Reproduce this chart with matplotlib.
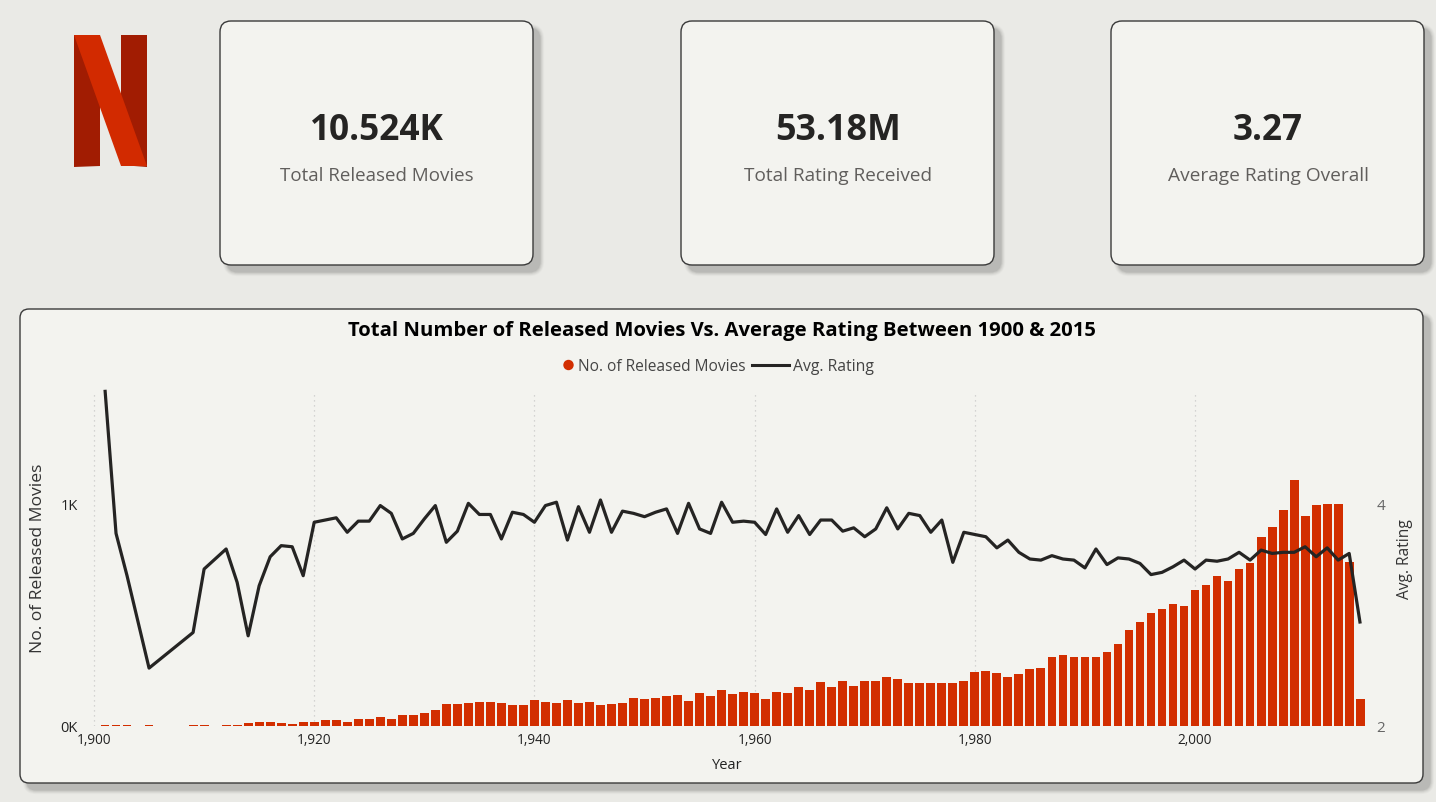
import matplotlib
matplotlib.use('Agg')
import matplotlib.pyplot as plt
from matplotlib.patches import FancyBboxPatch, Polygon, Circle
from matplotlib.lines import Line2D

plt.rcParams['font.family'] = ['Open Sans', 'DejaVu Sans']

# ---------------- data ----------------
years = [1901, 1902, 1903, 1905, 1909, 1910, 1912, 1913] + list(range(1914, 2016))

movies = [5, 5, 5, 5, 5, 5, 5, 5,
          13, 16, 16, 12, 8, 16, 19, 25, 25, 16, 30, 33, 40, 30, 49, 49, 58,
          70, 97, 99, 102, 108, 108, 103, 94, 93,
          117, 108, 102, 117, 102, 106, 93, 99, 102, 126,
          121, 126, 133, 138, 112, 147, 135, 161, 142, 151,
          148, 123, 151, 147, 175, 163, 199, 173, 200, 178,
          200, 203, 218, 209, 194, 194, 194, 194, 191, 200,
          241, 248, 236, 221, 232, 254, 260, 312, 320, 308,
          312, 312, 333, 369, 432, 468, 508, 526, 550, 537,
          611, 631, 674, 653, 704, 734, 849, 895, 972, 1106,
          943, 991, 997, 997, 737, 120]

ratings = [5.02, 3.73, 3.35, 2.52, 2.84, 3.41, 3.59, 3.29,
           2.81, 3.26, 3.52, 3.62, 3.61, 3.35, 3.83, 3.85, 3.87, 3.74, 3.84, 3.84,
           3.98, 3.91, 3.68, 3.73, 3.86, 3.98, 3.65, 3.75, 4.00, 3.90, 3.90, 3.68,
           3.92, 3.90,
           3.83, 3.98, 4.01, 3.67, 3.97, 3.74, 4.03, 3.74, 3.93, 3.91,
           3.88, 3.92, 3.95, 3.73, 4.00, 3.77, 3.73, 4.01, 3.83, 3.84,
           3.83, 3.72, 3.95, 3.74, 3.89, 3.72, 3.85, 3.85, 3.75, 3.78,
           3.70, 3.77, 3.96, 3.77, 3.91, 3.89, 3.74, 3.85, 3.47, 3.74,
           3.72, 3.70, 3.60, 3.67, 3.56, 3.50, 3.49, 3.53, 3.50, 3.49,
           3.42, 3.59, 3.45, 3.51, 3.50, 3.46, 3.36, 3.38, 3.43, 3.49,
           3.41, 3.49, 3.48, 3.50, 3.56, 3.49, 3.58, 3.55, 3.56, 3.56,
           3.61, 3.52, 3.60, 3.49, 3.55, 2.92]

kpi_values = ['10.524K', '53.18M', '3.27']
kpi_labels = ['Total Released Movies', 'Total Rating Received', 'Average Rating Overall']
x_ticks = [1900, 1920, 1940, 1960, 1980, 2000]
left_ticks = [0, 1000]
left_tick_labels = ['0K', '1K']
right_ticks = [2, 4]
right_tick_labels = ['2', '4']

title = 'Total Number of Released Movies Vs. Average Rating Between 1900 & 2015'
legend_bar = 'No. of Released Movies'
legend_line = 'Avg. Rating'

RED = '#D22E00'
DARK = '#252423'

# ---------------- figure ----------------
W, H = 1436, 803
fig = plt.figure(figsize=(W / 100, H / 100), dpi=100)
fig.patch.set_facecolor('#EAEAE6')
bg = fig.add_axes([0, 0, 1, 1])
bg.set_xlim(0, W)
bg.set_ylim(H, 0)
bg.axis('off')
renderer = fig.canvas.get_renderer()


def fit(txt, target):
    bb = txt.get_window_extent(renderer=renderer)
    cur = max(bb.width, bb.height)
    txt.set_fontsize(txt.get_fontsize() * target / cur)
    return txt


def card(x0, y0, x1, y1, r=11):
    for d, a in [(14, 0.02), (11, 0.03), (8, 0.04), (5, 0.055), (2, 0.07)]:
        bg.add_patch(FancyBboxPatch((x0 + 7 - d * 0.3, y0 + 7 - d * 0.3),
                                    x1 - x0 + d * 0.6, y1 - y0 + d * 0.6,
                                    boxstyle=f"round,pad=0,rounding_size={r + d * 0.3}",
                                    fc='#000000', ec='none', alpha=a, zorder=1))
    bg.add_patch(FancyBboxPatch((x0, y0), x1 - x0, y1 - y0,
                                boxstyle=f"round,pad=0,rounding_size={r}",
                                fc='#F3F3EF', ec='#3A3A3A', lw=1.0, zorder=2))


# Netflix logo
bg.add_patch(Polygon([(74, 36), (100, 36), (100, 167), (74, 168)], closed=True,
                     fc='#A11C02', ec='none', zorder=3))
bg.add_patch(Polygon([(121, 36), (147, 36), (147, 168), (121, 166)], closed=True,
                     fc='#A11C02', ec='none', zorder=3))
bg.add_patch(Polygon([(74, 36), (100, 36), (147, 167), (121, 167)], closed=True,
                     fc='#D22A00', ec='none', zorder=4))

# KPI cards
cards = [(220, 22, 533, 266), (681, 22, 994, 266), (1111, 22, 1424, 266)]
val_w = [134, 126, 70]
lab_w = [195, 189, 202]
for (x0, y0, x1, y1), v, l, vw, lw_ in zip(cards, kpi_values, kpi_labels, val_w, lab_w):
    card(x0, y0, x1, y1)
    cx = (x0 + x1) / 2 + 0.5
    t = bg.text(cx, 140, v, ha='center', va='baseline', fontsize=28,
                fontweight='bold', color=DARK, zorder=5)
    fit(t, vw)
    t = bg.text(cx, 181, l, ha='center', va='baseline', fontsize=14,
                color='#605E5C', zorder=5)
    fit(t, lw_)

# Chart panel
card(20, 310, 1423, 784, r=9)

t = bg.text(722, 336.5, title, ha='center', va='baseline', fontsize=15,
            fontweight='bold', color='#000000', zorder=5)
fit(t, 745)

# legend
bg.add_patch(Circle((568.5, 366), 5.2, fc=RED, ec='none', zorder=5))
t = bg.text(578, 371.5, legend_bar, ha='left', va='baseline', fontsize=11,
            color='#444444', zorder=5)
fit(t, 169)
bg.add_line(Line2D([752, 789], [366, 366], color=DARK, lw=2.2, zorder=5))
t = bg.text(793, 371.5, legend_line, ha='left', va='baseline', fontsize=11,
            color='#444444', zorder=5)
fit(t, 81)

# axis titles
t = bg.text(38.5, 558, 'No. of Released Movies', ha='center', va='center',
            rotation=90, fontsize=11, color='#333333', zorder=5)
fit(t, 190)
t = bg.text(1405, 559.5, 'Avg. Rating', ha='center', va='center',
            rotation=90, fontsize=10.5, color='#333333', zorder=5)
fit(t, 80)
bg.text(727, 769, 'Year', ha='center', va='baseline', fontsize=10.5,
        color='#222222', zorder=5)

# ---------------- chart ----------------
x_left, x_right = 87.4, 1366.8
y_top, y_bot = 393, 727
ax = fig.add_axes([x_left / W, 1 - y_bot / H, (x_right - x_left) / W, (y_bot - y_top) / H])
ax.set_facecolor('none')
ax.bar(years, movies, width=0.8, color=RED, zorder=2)
ax.set_xlim(1899.4, 2015.6)
ax.set_ylim(0, 1500)
ax.set_xticks(x_ticks)
ax.set_xticklabels([f'{v:,}' for v in x_ticks], fontsize=9.8, color='#222222')
ax.set_yticks(left_ticks)
ax.set_yticklabels(left_tick_labels, fontsize=10.5, color='#222222')
ax.tick_params(axis='both', length=0)
ax.tick_params(axis='x', pad=4)
ax.tick_params(axis='y', pad=7)
ax.grid(axis='x', color='#C9C9C9', linestyle=(0, (1, 3)), lw=0.9, zorder=0)
ax.grid(axis='y', visible=False)
for s in ax.spines.values():
    s.set_visible(False)

ax2 = ax.twinx()
ax2.plot(years, ratings, color=DARK, lw=2.3, solid_joinstyle='round',
         solid_capstyle='butt', clip_on=False, zorder=3)
ax2.set_ylim(2, 5)
ax2.set_yticks(right_ticks)
ax2.set_yticklabels(right_tick_labels, fontsize=11, color='#666666')
ax2.tick_params(axis='y', length=0, pad=7)
for s in ax2.spines.values():
    s.set_visible(False)

fig.savefig('out.png', dpi=100, facecolor=fig.get_facecolor())
